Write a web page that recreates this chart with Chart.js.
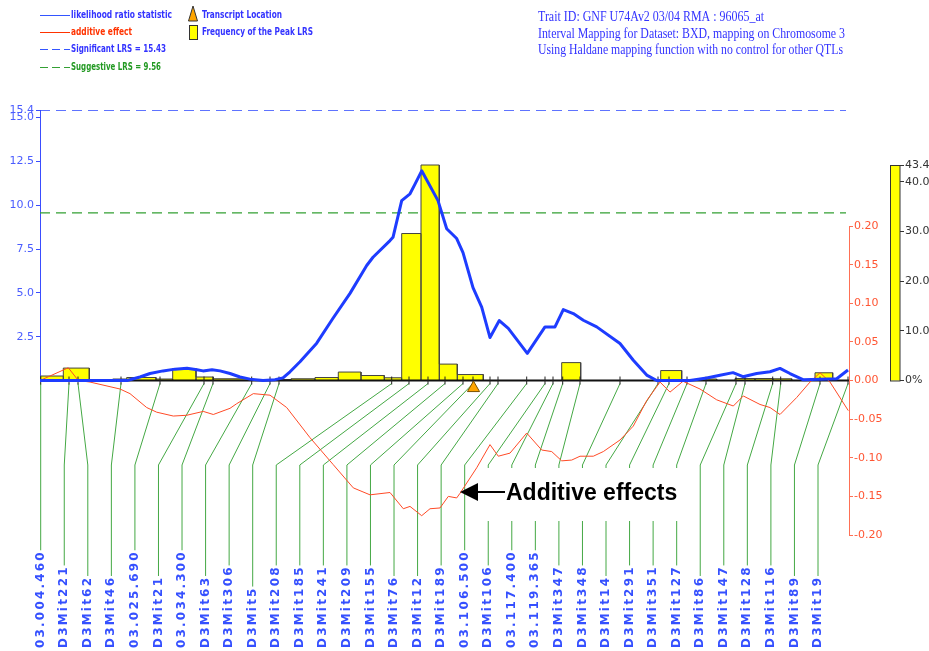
<!DOCTYPE html>
<html>
<head>
<meta charset="UTF-8">
<title>Interval Mapping - Chromosome 3</title>
<script src="https://cdn.jsdelivr.net/npm/chart.js"></script>
<style>
    body { margin: 0; padding: 0; background: #fff; }
    #wrap { position: relative; width: 929px; height: 651px; }
</style>
</head>
<body>
<div id="wrap"><canvas id="qtl" width="929" height="651"></canvas></div>
<script>
// markers along chromosome 3 (plot position, cM)
const markerNames = ['03.004.460','D3Mit221','D3Mit62','D3Mit46','03.025.690','D3Mit21','03.034.300','D3Mit63',
    'D3Mit306','D3Mit5','D3Mit208','D3Mit185','D3Mit241','D3Mit209','D3Mit155','D3Mit76','D3Mit12','D3Mit189',
    '03.106.500','D3Mit106','03.117.400','03.119.365','D3Mit347','D3Mit348','D3Mit14','D3Mit291','D3Mit351',
    'D3Mit127','D3Mit86','D3Mit147','D3Mit128','D3Mit116','D3Mit89','D3Mit19'];
const markerPos = [0.07, 2.9, 3.8, 8.1, 12.0, 16.4, 17.3, 21.17, 23.0, 23.9, 35.17, 36.9, 38.8, 40.5, 42.3, 43.3,
    45.0, 45.8, 48.67, 50.5, 51.3, 52.27, 54.0, 58.0, 61.8, 62.9, 64.7, 66.6, 69.6, 70.5, 73.27, 74.07, 78.0, 80.8];

// likelihood ratio statistic
const lrsPos = [0, 6, 8.7, 10, 11, 12.3, 13.5, 14.7, 15.7, 16.3, 17.2, 18, 19, 20, 21, 22.3, 23.5, 24.3, 25, 26,
    27.67, 29.3, 31, 32.67, 33.3, 35, 35.3, 36.17, 37, 37.5, 38.17, 39.8, 40.67, 41.67, 42.3, 43.3, 44.17, 45,
    45.93, 46.83, 48.73, 50.5, 51.5, 52.33, 53.33, 54.33, 55.67, 58, 59.33, 60.67, 61.67, 65, 66.67, 68, 69.3,
    70.3, 71.67, 73, 74, 75, 76.3, 79.67, 80.8];
const lrsVal = [0, 0, 0, 0.2, 0.4, 0.55, 0.65, 0.7, 0.62, 0.55, 0.62, 0.55, 0.4, 0.2, 0.08, 0, 0.05, 0.15, 0.5, 1.07,
    2.13, 3.55, 4.97, 6.56, 7.03, 7.98, 8.17, 10.26, 10.65, 11.2, 11.96, 10.26, 8.66, 8.1, 7.3, 5.3, 4.19, 2.45,
    3.42, 2.97, 1.55, 3.06, 3.06, 4.05, 3.82, 3.44, 3.06, 2.11, 1.16, 0.31, 0, 0, 0.15, 0.3, 0.45,
    0.22, 0.4, 0.5, 0.69, 0.4, 0.05, 0.1, 0.6];

// additive effect
const addPos = [0, 2.83, 3.83, 5, 8, 9, 10.67, 11.67, 13.33, 14.67, 16.33, 17.33, 19, 19.67, 21.33, 23, 24.67, 27,
    29.33, 31.33, 33, 35, 36.33, 37, 38.17, 39, 40, 40.83, 41.67, 42, 43.67, 45, 45.83, 47, 48.67, 50.17, 51.17,
    52.17, 53.17, 54, 55.33, 56.33, 58, 59.33, 60.67, 62, 63, 64.3, 66, 67.67, 69.33, 70.33, 72, 73, 74, 75.67,
    77, 78, 79, 80.83];
const addVal = [0, 0.0165, 0, -0.002, -0.011, -0.017, -0.035, -0.041, -0.046, -0.045, -0.04, -0.044, -0.036, -0.03,
    -0.017, -0.019, -0.035, -0.074, -0.109, -0.139, -0.148, -0.145, -0.166, -0.163, -0.175, -0.166, -0.165, -0.15,
    -0.152, -0.146, -0.113, -0.083, -0.098, -0.094, -0.068, -0.09, -0.092, -0.104, -0.103, -0.098, -0.098, -0.092,
    -0.077, -0.059, -0.026, -0.002, -0.015, -0.001, -0.011, -0.025, -0.033, -0.02, -0.031, -0.035, -0.044, -0.022,
    -0.002, 0.01, -0.002, -0.039];

// frequency of the peak LRS (%), bins
const freqStart = [0.07, 2.33, 7.27, 8.67, 11.6, 13.27, 15.6, 17.33, 21.0, 23.17, 25.1, 27.5, 29.83, 32.1, 34.43,
    36.17, 38.1, 39.93, 41.73, 52.17, 62.07, 65.8, 69.5, 71.5, 73.3, 77.5];
const freqEnd = [2.33, 4.93, 8.67, 11.6, 13.27, 15.6, 17.33, 21.0, 23.17, 25.1, 27.5, 29.83, 32.1, 34.43, 36.17,
    38.1, 39.93, 41.73, 44.33, 54.07, 64.17, 67.67, 71.5, 73.3, 75.17, 79.27];
const freqPct = [0.9, 2.5, 0.3, 0.6, 0.3, 2.4, 0.7, 0.35, 0.15, 0.2, 0.35, 0.6, 1.7, 1.0, 0.55, 29.6, 43.4, 3.3,
    1.2, 3.6, 2.0, 0.3, 0.4, 0.4, 0.35, 1.55];

const significantLRS = 15.43;
const suggestiveLRS = 9.56;
const transcriptPos = 43.35;
const chrEnd = 80.9;

const lrsTicks = [2.5, 5, 7.5, 10, 12.5, 15, 15.43];
const addTicks = [-0.2, -0.15, -0.1, -0.05, 0, 0.05, 0.1, 0.15, 0.2];
const freqTicks = [0, 10, 20, 30, 40, 43.4];

const titleLines = ['Trait ID: GNF U74Av2 03/04 RMA : 96065_at',
    'Interval Mapping for Dataset: BXD, mapping on Chromosome 3',
    'Using Haldane mapping function with no control for other QTLs'];

const BLUE = '#3a4dff', RED = '#ff4a26', GREEN = '#33a033';
const LABEL_FONT = 'bold 12px "DejaVu Sans"', LABEL_SP = 2.2;

// bars as one outline path on the frequency scale
const freqPath = [{ x: 0, y: 0 }];
freqStart.forEach((s, i) => {
    freqPath.push({ x: s, y: 0 }, { x: s, y: freqPct[i] }, { x: freqEnd[i], y: freqPct[i] }, { x: freqEnd[i], y: 0 });
});
freqPath.push({ x: chrEnd, y: 0 });

function spacedWidth(ctx, txt, sp) {
    let w = 0;
    for (const ch of txt) w += ctx.measureText(ch).width + sp;
    return w - sp;
}

const decor = {
    id: 'decor',
    beforeDatasetsDraw(chart) {
        const { ctx, chartArea, scales: { x, y, ya, yf } } = chart;
        ctx.save();
        // left axis line
        ctx.strokeStyle = BLUE; ctx.lineWidth = 1;
        ctx.beginPath();
        ctx.moveTo(chartArea.left + 0.5, y.getPixelForValue(significantLRS));
        ctx.lineTo(chartArea.left + 0.5, y.getPixelForValue(0));
        ctx.stroke();
        // additive axis line
        ctx.strokeStyle = '#ff7055';
        ctx.beginPath();
        ctx.moveTo(chartArea.right + 0.5, ya.getPixelForValue(0.2));
        ctx.lineTo(chartArea.right + 0.5, ya.getPixelForValue(-0.2));
        ctx.stroke();
        // frequency key bar
        const ft = yf.getPixelForValue(43.4), fb = yf.getPixelForValue(0);
        ctx.fillStyle = '#ffff00';
        ctx.fillRect(yf.left - 10, ft, 10, fb - ft);
        ctx.strokeStyle = '#333';
        ctx.strokeRect(yf.left - 9.5, ft + 0.5, 9.5, fb - ft);

        // marker connector lines
        ctx.font = LABEL_FONT;
        const y0 = y.getPixelForValue(0) + 3;
        const step = (818 - 40.7) / 33;
        ctx.strokeStyle = '#44a844'; ctx.lineWidth = 1;
        markerNames.forEach((name, i) => {
            const mx = x.getPixelForValue(markerPos[i]);
            const lx = chartArea.left + 0.7 + i * step;
            const len = spacedWidth(ctx, name, LABEL_SP);
            ctx.beginPath();
            ctx.moveTo(mx, y0);
            ctx.lineTo(lx, 465);
            ctx.lineTo(lx, 648 - len - 2);
            ctx.stroke();
        });
        // box behind the annotation
        ctx.fillStyle = '#fff';
        ctx.fillRect(478, 468, 212, 53);
        ctx.restore();
    },
    afterDatasetsDraw(chart) {
        const { ctx, chartArea } = chart;
        ctx.save();
        // marker labels
        ctx.font = LABEL_FONT;
        ctx.fillStyle = '#3550ff';
        ctx.textBaseline = 'middle';
        const step = (818 - 40.7) / 33;
        markerNames.forEach((name, i) => {
            const lx = chartArea.left + 0.7 + i * step;
            ctx.save();
            ctx.translate(lx, 648);
            ctx.rotate(-Math.PI / 2);
            let p = 0;
            for (const ch of name) { ctx.fillText(ch, p, 0); p += ctx.measureText(ch).width + LABEL_SP; }
            ctx.restore();
        });

        // "Additive effects" arrow
        ctx.fillStyle = '#000'; ctx.strokeStyle = '#000';
        ctx.beginPath();
        ctx.moveTo(460, 492); ctx.lineTo(478, 483); ctx.lineTo(478, 501); ctx.closePath(); ctx.fill();
        ctx.lineWidth = 2;
        ctx.beginPath(); ctx.moveTo(476, 492); ctx.lineTo(505, 492); ctx.stroke();
        ctx.font = 'bold 23px "Liberation Sans"';
        ctx.textBaseline = 'alphabetic';
        ctx.fillText('Additive effects', 506, 500);

        // legend
        ctx.lineWidth = 1;
        ctx.font = 'bold 11px "DejaVu Sans Condensed", "DejaVu Sans"';
        ctx.textBaseline = 'middle';
        const leg = [
            ['likelihood ratio statistic', '#3333ff', '#3355ff', [], 15, 101],
            ['additive effect', '#ff3300', '#ff3300', [], 32, 61],
            ['Significant LRS = 15.43', '#3333ff', '#3355ff', [8, 4], 49, 95],
            ['Suggestive LRS = 9.56', '#229922', GREEN, [8, 4], 67, 90]
        ];
        leg.forEach(([t, tc, lc, dash, ly, mw]) => {
            ctx.strokeStyle = lc; ctx.setLineDash(dash);
            ctx.beginPath(); ctx.moveTo(40, ly + 0.5); ctx.lineTo(70, ly + 0.5); ctx.stroke();
            ctx.setLineDash([]);
            ctx.fillStyle = tc;
            ctx.fillText(t, 71, ly, mw);
        });
        // transcript symbol
        ctx.fillStyle = '#ffa500'; ctx.strokeStyle = '#333';
        ctx.beginPath(); ctx.moveTo(193, 6); ctx.lineTo(197.5, 21); ctx.lineTo(188.5, 21); ctx.closePath();
        ctx.fill(); ctx.stroke();
        ctx.fillStyle = '#ffff00';
        ctx.fillRect(189, 25, 8, 14); ctx.strokeRect(189.5, 25.5, 8, 14);
        ctx.fillStyle = '#3333ff';
        ctx.fillText('Transcript Location', 202, 15, 80);
        ctx.fillText('Frequency of the Peak LRS', 202, 32, 111);

        // title
        ctx.font = '14px "Liberation Serif"';
        ctx.textBaseline = 'alphabetic';
        ctx.fillStyle = '#3333ff';
        const tw = [226, 307, 305];
        titleLines.forEach((t, i) => ctx.fillText(t, 538, 21 + i * 16.5, tw[i]));
        ctx.restore();
    }
};

Chart.defaults.font.family = '"DejaVu Sans", sans-serif';

new Chart(document.getElementById('qtl').getContext('2d'), {
    type: 'line',
    data: {
        datasets: [
            { label: 'transcript', data: [{ x: transcriptPos, y: -0.43 }], yAxisID: 'y', showLine: false,
              pointStyle: 'triangle', pointRadius: 7, backgroundColor: '#ffa500', borderColor: '#7a5200', borderWidth: 1, order: 0 },
            { label: 'LRS', data: lrsPos.map((p, i) => ({ x: p, y: lrsVal[i] })), yAxisID: 'y',
              borderColor: '#1e3cff', borderWidth: 3, pointRadius: 0, tension: 0, borderJoinStyle: 'round', order: 1 },
            { label: 'additive', data: addPos.map((p, i) => ({ x: p, y: addVal[i] })), yAxisID: 'ya',
              borderColor: RED, borderWidth: 1, pointRadius: 0, tension: 0, order: 2 },
            { label: 'markers', data: markerPos.map(p => ({ x: p, y: 0 })), yAxisID: 'y', showLine: false,
              pointStyle: 'line', rotation: 90, pointRadius: 4, borderColor: '#222', borderWidth: 1, order: 3 },
            { label: 'axis', data: [{ x: 0, y: 0 }, { x: chrEnd, y: 0 }], yAxisID: 'y',
              borderColor: '#111', borderWidth: 2, pointRadius: 0, order: 4 },
            { label: 'freq', data: freqPath, yAxisID: 'yf', fill: 'origin', backgroundColor: '#ffff00',
              borderColor: '#444', borderWidth: 1, pointRadius: 0, tension: 0, order: 5 },
            { label: 'significant', data: [{ x: 0, y: significantLRS }, { x: 80.6, y: significantLRS }], yAxisID: 'y',
              borderColor: '#2a45ff', borderWidth: 1.5, borderDash: [10, 6], pointRadius: 0, order: 6 },
            { label: 'suggestive', data: [{ x: 0, y: suggestiveLRS }, { x: 80.6, y: suggestiveLRS }], yAxisID: 'y',
              borderColor: GREEN, borderWidth: 1.2, borderDash: [10, 6], pointRadius: 0, order: 6 }
        ]
    },
    options: {
        responsive: false,
        animation: false,
        events: [],
        layout: { padding: { top: 110, bottom: 116, left: 0, right: 0 } },
        plugins: { legend: { display: false }, tooltip: { enabled: false } },
        scales: {
            x: { type: 'linear', min: 0, max: chrEnd, display: false },
            y: {
                position: 'left', min: -8.81, max: significantLRS,
                afterBuildTicks: s => { s.ticks = lrsTicks.map(v => ({ value: v })); },
                afterFit: s => { s.width = 40; },
                border: { display: false },
                grid: { drawOnChartArea: false, drawTicks: true, tickLength: 4, color: BLUE },
                ticks: { color: '#4a5cff', font: { size: 11 }, padding: 2, autoSkip: false,
                         callback: v => v === significantLRS ? '15.4' : v.toFixed(1) }
            },
            ya: {
                position: 'right', weight: 0, min: -0.2, max: 0.3502,
                afterBuildTicks: s => { s.ticks = addTicks.map(v => ({ value: v })); },
                afterFit: s => { s.width = 51; },
                border: { display: false },
                grid: { drawOnChartArea: false, drawTicks: true, tickLength: 4, color: '#ff7055' },
                ticks: { color: '#ff5533', font: { size: 11 }, padding: 1, autoSkip: false,
                         callback: v => v.toFixed(2) }
            },
            yf: {
                position: 'right', weight: 1, min: -31.12, max: 54.48,
                afterBuildTicks: s => { s.ticks = freqTicks.map(v => ({ value: v })); },
                afterFit: s => { s.width = 29; },
                border: { display: false },
                grid: { drawOnChartArea: false, drawTicks: true, tickLength: 4, color: '#333' },
                ticks: { color: '#333', font: { size: 11 }, padding: 1, autoSkip: false,
                         callback: v => v === 0 ? '0%' : v.toFixed(1) }
            }
        }
    },
    plugins: [decor]
});
</script>
</body>
</html>
